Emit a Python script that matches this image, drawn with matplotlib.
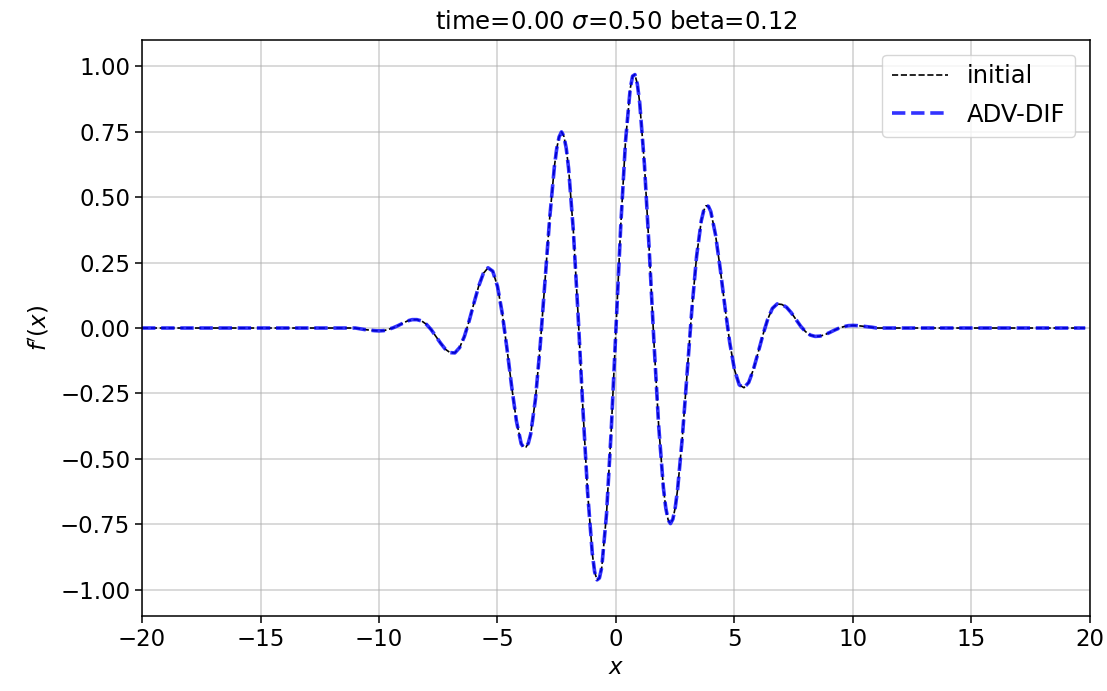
import matplotlib
matplotlib.use("Agg")
import matplotlib.pyplot as plt

# x positions and curve values
x_vals = [-20.0, -15.0, -11.0, -10.8, -10.6, -10.4, -10.2, -10.0, -9.8, -9.6, -9.4, -9.2, -9.0,
          -8.8, -8.6, -8.4, -8.2, -8.0, -7.8, -7.6, -7.4, -7.2, -7.0, -6.8, -6.6, -6.4,
          -6.2, -6.0, -5.8, -5.6, -5.4, -5.2, -5.0, -4.8, -4.6, -4.4, -4.2, -4.0, -3.9,
          -3.8, -3.7, -3.6, -3.4, -3.2, -3.0, -2.8, -2.6, -2.5, -2.4, -2.3, -2.2, -2.1,
          -2.0, -1.8, -1.6, -1.4, -1.2, -1.0, -0.9, -0.8, -0.7, -0.6, -0.4, -0.2, 0.0,
          0.2, 0.4, 0.6, 0.7, 0.8, 0.9, 1.0, 1.2, 1.4, 1.6, 1.8, 2.0, 2.1, 2.2, 2.3,
          2.4, 2.5, 2.6, 2.8, 3.0, 3.2, 3.4, 3.6, 3.7, 3.8, 3.9, 4.0, 4.2, 4.4, 4.6,
          4.8, 5.0, 5.2, 5.4, 5.6, 5.8, 6.0, 6.2, 6.4, 6.6, 6.8, 7.0, 7.2, 7.4, 7.6,
          7.8, 8.0, 8.2, 8.4, 8.6, 8.8, 9.0, 9.2, 9.4, 9.6, 9.8, 10.0, 10.2, 10.4,
          10.6, 10.8, 11.0, 15.0, 19.8]

initial = [0.0, 0.0, 0.0, -0.003, -0.006, -0.008, -0.010, -0.011, -0.010, -0.005, 0.001, 0.009, 0.018,
           0.027, 0.032, 0.032, 0.027, 0.014, -0.006, -0.032, -0.058, -0.081, -0.094, -0.095, -0.075, -0.033,
           0.026, 0.093, 0.158, 0.208, 0.230, 0.217, 0.159, 0.056, -0.079, -0.225, -0.356, -0.442, -0.455,
           -0.455, -0.440, -0.405, -0.273, -0.069, 0.174, 0.417, 0.616, 0.686, 0.730, 0.749, 0.733, 0.687,
           0.610, 0.372, 0.051, -0.302, -0.625, -0.861, -0.932, -0.962, -0.955, -0.914, -0.711, -0.389, 0.0,
           0.389, 0.711, 0.914, 0.962, 0.968, 0.932, 0.861, 0.625, 0.302, -0.051, -0.372, -0.610, -0.687, -0.733, -0.747,
           -0.730, -0.686, -0.616, -0.417, -0.174, 0.069, 0.273, 0.410, 0.448, 0.467, 0.465, 0.445, 0.356, 0.225, 0.079,
           -0.056, -0.159, -0.217, -0.228, -0.208, -0.158, -0.093, -0.026, 0.033, 0.075, 0.092, 0.090, 0.079, 0.058, 0.032,
           0.006, -0.014, -0.027, -0.032, -0.031, -0.026, -0.018, -0.009, -0.001, 0.005, 0.009, 0.010, 0.009, 0.007,
           0.005, 0.003, 0.0, 0.0, 0.0]

adv_dif = list(initial)

series_labels = ["initial", "ADV-DIF"]
x_ticks = [-20, -15, -10, -5, 0, 5, 10, 15, 20]
y_ticks = [-1.00, -0.75, -0.50, -0.25, 0.00, 0.25, 0.50, 0.75, 1.00]

plt.rcParams["font.family"] = ["DejaVu Sans"]
plt.rcParams["font.size"] = 16.5

fig = plt.figure(figsize=(11.07, 6.91), dpi=100)
ax = fig.add_axes([0.1283, 0.1085, 0.8563, 0.8336])

ax.plot(x_vals, initial, "k--", lw=1.2, label=series_labels[0])
ax.plot(x_vals, adv_dif, "--", color="b", lw=2.6, alpha=0.8, label=series_labels[1])

ax.set_xlim(-20, 20)
ax.set_ylim(-1.1, 1.1)
ax.set_xticks(x_ticks)
ax.set_yticks(y_ticks)
ax.grid(True, color="#b0b0b0", alpha=0.55, lw=1.2)
ax.set_title(r"time=0.00 $\sigma$=0.50 beta=0.12", fontsize=17.5, pad=8)
ax.set_xlabel(r"$x$")
ax.set_ylabel(r"$f'(x)$", labelpad=6)
for s in ax.spines.values():
    s.set_linewidth(1.1)
ax.tick_params(width=1.1, length=5)
ax.legend(loc="upper right", fontsize=17.5, handlelength=2.3, labelspacing=0.6,
          borderaxespad=0.6)

fig.savefig("out.png", dpi=100)
